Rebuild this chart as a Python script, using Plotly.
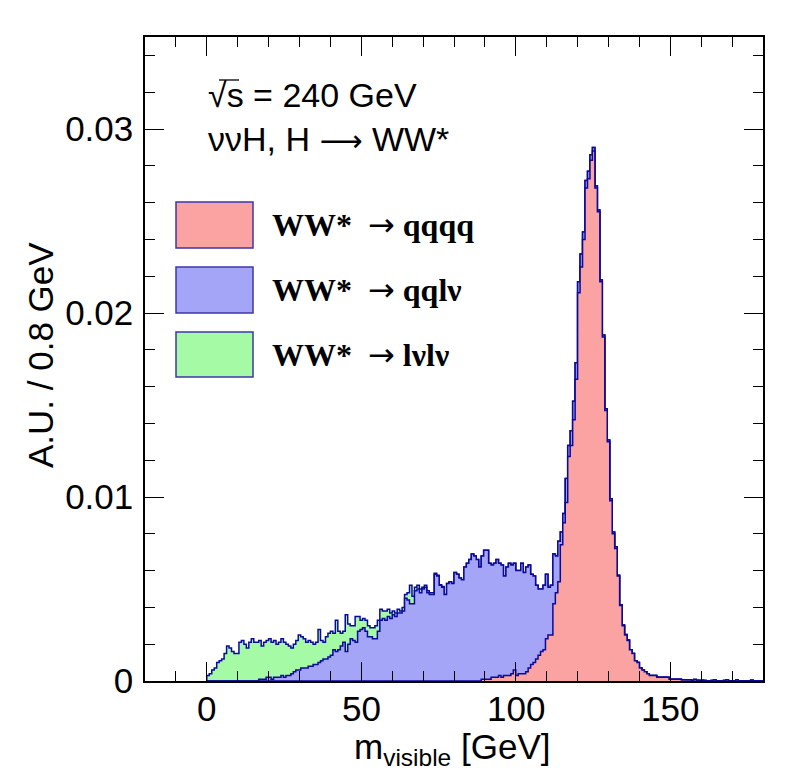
import numpy as np
import plotly.graph_objects as go

BIN_W = 0.8  # GeV per bin
N_BINS = 225  # 0 .. 180 GeV

# bin contents in units of 1e-4 (A.U. / 0.8 GeV)
# each list starts at the given m_visible value (GeV)
qqqq_start = 88.8
qqqq = [
    1, 1, 1, 1, 2, 2, 2, 3, 2, 3,
    3, 3, 4, 6, 3, 4, 4, 4, 5, 7,
    9, 10, 12, 14, 16, 17, 23, 25, 25, 42,
    48, 54, 74, 86, 97, 122, 128, 142, 164, 211,
    225, 240, 268, 273, 283, 288, 268, 255, 217, 187,
    147, 130, 98, 80, 72, 57, 41, 30, 25, 22,
    17, 15, 11, 10, 7, 6, 5, 4, 3, 3,
    3, 2, 2, 2, 2, 2, 1, 1, 1, 1,
    1, 0.5, 0.5, 0.5, 0.6, 0.4, 0.8, 0.4, 0.3, 0.4,
    0.3, 0.2, 0.2, 0.3, 0.5, 0.2, 0.1, 0.2, 0.3, 0.5,
    0.2, 0.1, 0.2, 0.5, 0.2, 0.1, 0.2, 0.1, 0.2, 0.4,
    0.2, 0.1, 0.1, 0.2,
]

qqlv_start = 16.8
qqlv = [
    1, 1, 1, 2, 2, 1, 2, 2, 2, 3,
    2, 3, 3, 4, 5, 6, 6, 7, 7, 7,
    8, 8, 9, 9, 10, 11, 12, 12, 13, 14,
    17, 16, 17, 19, 21, 16, 20, 23, 22, 21,
    27, 28, 29, 27, 24, 24, 23, 23, 27, 33,
    34, 33, 35, 34, 36, 35, 37, 37, 38, 45,
    44, 42, 42, 49, 50, 48, 50, 51, 48, 47,
    47, 58, 57, 52, 51, 47, 53, 54, 53, 59,
    58, 56, 55, 62, 64, 66, 69, 68, 66, 62,
    67, 70, 70, 63, 61, 62, 64, 61, 61, 54,
    59, 61, 59, 58, 57, 56, 60, 55, 57, 56,
    49, 47, 40, 36, 34, 35, 35, 26, 27, 27,
    20, 22, 7, 5, 13, 6, 8, 10, 9, 6,
    7, 4, 4, 4, 3, 2, 1, 1, 1, 1,
    1, 1, 1, 1, 1, 0.5, 0.5, 0.5, 0.3, 0.3,
]

lvlv_start = 0.0
lvlv = [
    3, 4, 6, 7, 10, 11, 12, 15, 19, 18,
    16, 15, 15, 21, 22, 20, 18, 21, 23, 21,
    21, 21, 18, 20, 20, 21, 20, 20, 18, 19,
    20, 19, 17, 16, 14, 15, 16, 19, 17, 16,
    14, 14, 13, 11, 12, 18, 11, 9, 12, 13,
    13, 9, 17, 10, 7, 6, 20, 11, 7, 8,
    14, 8, 5, 5, 6, 6, 5, 6, 7, 6,
    6, 4, 5, 4, 3, 2, 2, 2, 1, 2,
    2, 4, 10, 4, 2, 2, 2, 1, 1, 1,
    1, 1, 0.5, 0.5, 0.3, 0.3,
]

ARROW = '<span style="font-family:DejaVu Sans;font-weight:normal">\u2192</span>'
LONG_ARROW = '<span style="font-family:DejaVu Sans;font-size:30px">\u27f6</span>'
legend_labels = [
    "<b>WW*</b>  " + ARROW + " <b>qqqq</b>",
    "<b>WW*</b>  " + ARROW + " <b>qql\u03bd</b>",
    "<b>WW*</b>  " + ARROW + " <b>l\u03bdl\u03bd</b>",
]
x_ticks = [0, 50, 100, 150]
x_tick_labels = ["0", "50", "100", "150"]
y_ticks = [0, 0.01, 0.02, 0.03]
y_tick_labels = ["0", "0.01", "0.02", "0.03"]

RED = "#FBA3A3"
BLUE = "#A5A5F8"
GREEN = "#A5FAA5"
LINE = "#0A0A96"
FONT = "Liberation Sans"
SERIF = "Liberation Serif"

W, H = 798, 774
OFF = 8  # page body margin, figure is drawn 8px in from the window corner
L, R, T, B = 145 - OFF, 35 + OFF, 37 - OFF, 93 + OFF

edges = np.arange(N_BINS + 1) * BIN_W


def to_bins(start, vals):
    h = np.zeros(N_BINS)
    i0 = int(round(start / BIN_W))
    h[i0:i0 + len(vals)] = np.array(vals, dtype=float) * 1e-4
    return h


h_qqqq = to_bins(qqqq_start, qqqq)
h_qqlv = to_bins(qqlv_start, qqlv)
h_lvlv = to_bins(lvlv_start, lvlv)

# THStack-like drawing: full sum first, then partial sums on top
stack = [
    (h_qqqq + h_qqlv + h_lvlv, GREEN),
    (h_qqqq + h_qqlv, BLUE),
    (h_qqqq, RED),
]


def step_trace(h, color):
    x = np.concatenate([[edges[0]], edges[:-1], [edges[-1]]])
    y = np.concatenate([[0.0], h, [0.0]])
    return go.Scatter(
        x=x, y=y, mode="lines",
        line=dict(shape="hv", color=LINE, width=1.5),
        fill="tozeroy", fillcolor=color,
        showlegend=False, hoverinfo="skip",
    )


fig = go.Figure()
for h, c in stack:
    fig.add_trace(step_trace(h, c))


# window pixel -> paper coordinates
def px(x):
    return (x - OFF - L) / (W - L - R)


def py(y):
    return (H - B - (y - OFF)) / (H - T - B)


# legend boxes + labels
boxes = [(202, 248, RED), (267, 313, BLUE), (332, 377, GREEN)]
for (y0, y1, c), lab in zip(boxes, legend_labels):
    fig.add_shape(type="rect", xref="paper", yref="paper",
                  x0=px(176), x1=px(253), y0=py(y1), y1=py(y0),
                  fillcolor=c, line=dict(color="#3C36AA", width=1.5))
    fig.add_annotation(x=px(270), y=py((y0 + y1) / 2), xref="paper", yref="paper",
                       text=lab, showarrow=False, xanchor="left", yanchor="middle",
                       font=dict(family=SERIF, size=32, color="black"))

fig.add_annotation(x=px(206), y=py(95), xref="paper", yref="paper",
                   text="\u221as = 240 GeV", showarrow=False,
                   xanchor="left", yanchor="middle",
                   font=dict(family=FONT, size=34, color="black"))
# bar of the square root over the s
fig.add_shape(type="line", xref="paper", yref="paper",
              x0=px(219), x1=px(239), y0=py(80), y1=py(80),
              line=dict(color="black", width=1.3))
fig.add_annotation(x=px(206), y=py(139), xref="paper", yref="paper",
                   text="\u03bd\u03bdH, H " + LONG_ARROW + " WW*", showarrow=False,
                   xanchor="left", yanchor="middle",
                   font=dict(family=FONT, size=34, color="black"))

# x tick labels, set a bit closer to the axis than plotly puts them
for v, t in zip(x_ticks, x_tick_labels):
    fig.add_annotation(x=v, y=py(708), xref="x", yref="paper",
                       text=t, showarrow=False, xanchor="center", yanchor="middle",
                       font=dict(family=FONT, size=35, color="black"))

# axis titles
fig.add_annotation(x=px(452), y=py(749), xref="paper", yref="paper",
                   text="m<sub>visible</sub> [GeV]", showarrow=False,
                   xanchor="center", yanchor="middle",
                   font=dict(family=FONT, size=35, color="black"))
fig.add_annotation(x=px(40), y=py(355), xref="paper", yref="paper",
                   text="A.U. / 0.8 GeV", showarrow=False, textangle=-90,
                   xanchor="center", yanchor="middle",
                   font=dict(family=FONT, size=35, color="black"))

axis_common = dict(
    showline=True, linecolor="black", linewidth=1.5, mirror="ticks",
    ticks="inside", tickcolor="black", tickwidth=1.2, ticklen=19,
    showgrid=False, zeroline=False,
    tickfont=dict(family=FONT, size=35, color="black"),
)

fig.update_xaxes(
    range=[-20, 180], tickvals=x_ticks, showticklabels=False,
    minor=dict(ticks="inside", dtick=10, tick0=0, ticklen=10, tickcolor="black", showgrid=False),
    **axis_common,
)
fig.update_yaxes(
    range=[0, 0.035], tickvals=y_ticks, ticktext=y_tick_labels,
    ticklabelstandoff=3,
    minor=dict(ticks="inside", dtick=0.002, tick0=0, ticklen=10, tickcolor="black", showgrid=False),
    **axis_common,
)

fig.update_layout(
    width=W, height=H,
    margin=dict(l=L, r=R, t=T, b=B),
    paper_bgcolor="white", plot_bgcolor="white",
    showlegend=False,
)

fig.write_html("out.html")
